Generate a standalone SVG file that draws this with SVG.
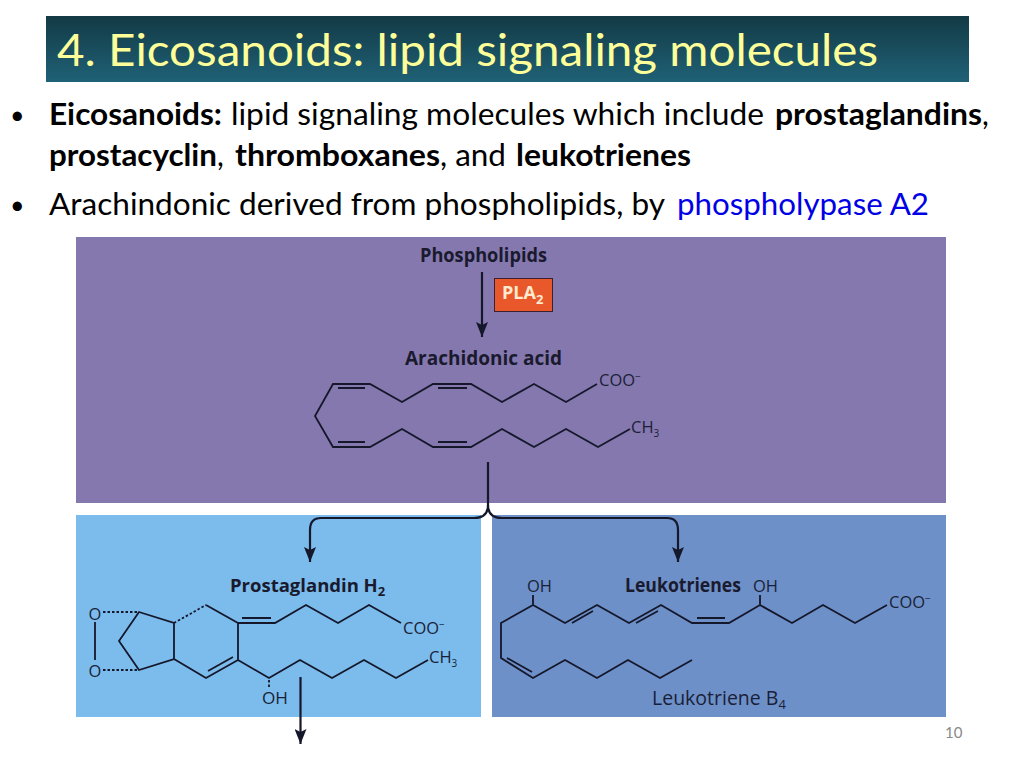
<svg xmlns="http://www.w3.org/2000/svg" width="1024" height="768" viewBox="0 0 1024 768">
<style>
.b{font-family:Lato,"Open Sans",sans-serif;font-size:30px;fill:#000}
.bb{font-weight:700}
.h{font-family:"Open Sans","Noto Sans",sans-serif;font-weight:700;fill:#1a1a2e;font-size:19px}
.c{font-family:"Open Sans","Noto Sans",sans-serif;fill:#1a1f38;font-size:16.500px}
.m{fill:none;stroke:#15172b;stroke-width:1.8;stroke-linejoin:miter}
.a{fill:none;stroke:#15172b;stroke-width:2.2}
.d{stroke-dasharray:2.5 2}
</style>
<defs>
<linearGradient id="g" x1="0" y1="0" x2="0" y2="1"><stop offset="0" stop-color="#133a45"/><stop offset="1" stop-color="#1f6176"/></linearGradient>
<marker id="ad" markerUnits="userSpaceOnUse" markerWidth="16" markerHeight="12" refX="15" refY="6" orient="auto" viewBox="0 0 16 12"><path d="M0 0L3 6L0 12L15 6Z" fill="#15172b"/></marker>
</defs>
<rect width="1024" height="768" fill="#fff"/>
<g id="title">
<rect x="46" y="16" width="923" height="66" fill="url(#g)"/>
<text x="57" y="66" font-family="Lato,sans-serif" font-size="44" fill="#ffff99" textLength="821" lengthAdjust="spacingAndGlyphs">4. Eicosanoids: lipid signaling molecules</text>
</g>
<g id="bullets">
<text x="10" y="124" class="b" style="font-size:25px">•</text>
<text x="49" y="125" class="b bb" textLength="173" lengthAdjust="spacingAndGlyphs">Eicosanoids:</text>
<text x="231" y="125" class="b" textLength="533" lengthAdjust="spacingAndGlyphs">lipid signaling molecules which include</text>
<text x="775" y="125" class="b bb" textLength="207" lengthAdjust="spacingAndGlyphs">prostaglandins</text>
<text x="982" y="125" class="b">,</text>
<text x="49" y="166" class="b bb" textLength="168" lengthAdjust="spacingAndGlyphs">prostacyclin</text>
<text x="217" y="166" class="b">,</text>
<text x="235" y="166" class="b bb" textLength="205" lengthAdjust="spacingAndGlyphs">thromboxanes</text>
<text x="440" y="166" class="b" textLength="66" lengthAdjust="spacingAndGlyphs">, and</text>
<text x="516" y="166" class="b bb" textLength="175" lengthAdjust="spacingAndGlyphs">leukotrienes</text>
<text x="10" y="214" class="b" style="font-size:25px">•</text>
<text x="49" y="215" class="b" textLength="616" lengthAdjust="spacingAndGlyphs">Arachindonic derived from phospholipids, by</text>
<text x="677" y="215" class="b" style="fill:#0000e6" textLength="252" lengthAdjust="spacingAndGlyphs">phospholypase A2</text>
</g>
<g id="panels">
<rect x="76" y="237" width="870" height="266" fill="#8578ae"/>
<rect x="76" y="515" width="405" height="202" fill="#7bbcec"/>
<rect x="492" y="515" width="454" height="202" fill="#6d90c8"/>
</g>
<g id="phospholipids"><text x="420" y="262" class="h" textLength="127" lengthAdjust="spacingAndGlyphs">Phospholipids</text></g>
<g id="pla2">
<rect x="494.500" y="278.500" width="58" height="33" fill="#e8582a" stroke="#3a2030" stroke-width="1"/>
<text x="502" y="299" font-family="'Open Sans',sans-serif" font-weight="700" font-size="18" fill="#ffe9cf">PLA<tspan font-size="13" dy="5">2</tspan></text>
</g>
<g id="arachidonic-acid">
<text x="405" y="365" class="h" textLength="157" lengthAdjust="spacingAndGlyphs">Arachidonic acid</text>
<path class="m" d="M597 384L566 402L534 384L502 402L471 384H433L402 402L370 384H333L315 416L333 447H370L402 429L433 447H471L502 429L534 447L566 429L598 447L630 429"/>
<path class="m" d="M338 388H365M438 388H467M338 442H365M438 442H467"/>
<text x="599" y="386" class="c">COO<tspan font-size="10" dy="-6">−</tspan></text>
<text x="631" y="433" class="c">CH<tspan font-size="10" dy="4">3</tspan></text>
</g>
<g id="prostaglandin-h2">
<text x="230" y="592" class="h" style="font-size:18.500px">Prostaglandin H<tspan font-size="13" dy="4">2</tspan></text>
<path class="m" d="M95 622V660M139 612L174 623V659L139 670L119 641Z"/>
<path class="m d" d="M103 612H139M103 670H139M174 623L206 605M269 680V687"/>
<path class="m" d="M206 605L238 623V660L206 678L174 659M208 671L233 657M238 623H275L306 605L338 623L369 605L401 623M242 618H271M238 660L269 678L300 660L332 678L364 660L396 678L428 660"/>
<text x="95" y="620" class="c" text-anchor="middle">O</text>
<text x="95" y="677" class="c" text-anchor="middle">O</text>
<text x="262" y="704" class="c" textLength="26" lengthAdjust="spacingAndGlyphs">OH</text>
<text x="403" y="634" class="c">COO<tspan font-size="10" dy="-6">−</tspan></text>
<text x="429" y="663" class="c">CH<tspan font-size="10" dy="4">3</tspan></text>
</g>
<g id="leukotrienes">
<text x="625" y="592" class="h" textLength="116" lengthAdjust="spacingAndGlyphs">Leukotrienes</text>
<path class="m" d="M533 595V605M760 595V605M887 605L855 623L823 605L792 623L760 605L729 623H692L661 605L629 623L597 605L565 623L533 605L501 623V658L533 678L565 660L597 678L628 660L660 678L692 660"/>
<path class="m" d="M572 623L593 611M636 623L658 611M697 618H725M507 658L532 672"/>
<text x="527" y="592" class="c" textLength="25" lengthAdjust="spacingAndGlyphs">OH</text>
<text x="753" y="592" class="c" textLength="25" lengthAdjust="spacingAndGlyphs">OH</text>
<text x="889" y="608" class="c">COO<tspan font-size="10" dy="-6">−</tspan></text>
<text x="652" y="705" font-family="'Open Sans',sans-serif" font-size="19.500" fill="#1a1f38">Leukotriene B<tspan font-size="13" dy="4">4</tspan></text>
</g>
<g id="page-number"><text x="945" y="738" font-family="Lato,sans-serif" font-size="15" fill="#8a8a8a">10</text></g>
<g id="connectors">
<path class="a" d="M482 272V337" marker-end="url(#ad)"/>
<path class="a" d="M488 462V505Q488 518 474 518H321Q310 518 310 530V562" marker-end="url(#ad)"/>
<path class="a" d="M488 505Q488 518 502 518H667Q678 518 678 530V562" marker-end="url(#ad)"/>
<path class="a" d="M300.500 677V744" marker-end="url(#ad)"/>
</g>
</svg>
